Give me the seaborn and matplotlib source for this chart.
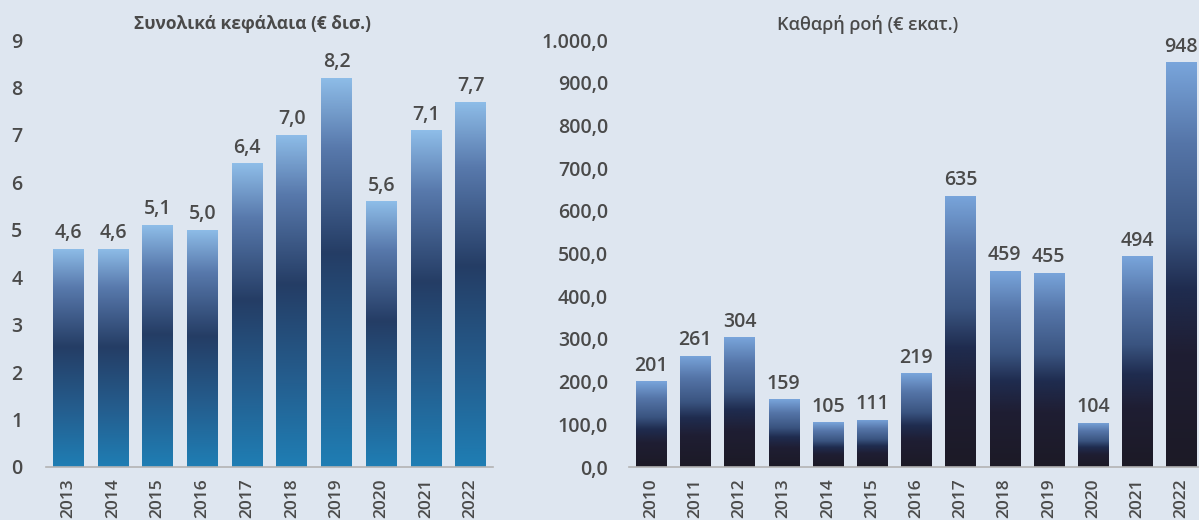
import numpy as np
import pandas as pd
import matplotlib
matplotlib.use("Agg")
import matplotlib.pyplot as plt
from matplotlib.colors import LinearSegmentedColormap
import seaborn as sns

# data
years_left = ["2013", "2014", "2015", "2016", "2017", "2018", "2019", "2020", "2021", "2022"]
assets_bn = [4.6, 4.6, 5.1, 5.0, 6.4, 7.0, 8.2, 5.6, 7.1, 7.7]

years_right = ["2010", "2011", "2012", "2013", "2014", "2015", "2016",
               "2017", "2018", "2019", "2020", "2021", "2022"]
netflow_mn = [201, 261, 304, 159, 105, 111, 219, 635, 459, 455, 104, 494, 948]

left_title = "Συνολικά κεφάλαια (€ δισ.)"
right_title = "Καθαρή ροή (€ εκατ.)"

bg = "#dee6f0"
txt = "#4a4a4a"

sns.set_theme(style="white")
plt.rcParams["font.family"] = ["Open Sans", "DejaVu Sans"]
plt.rcParams["font.weight"] = "semibold"

# gradients, top -> bottom
cmap_left = LinearSegmentedColormap.from_list(
    "left", [(0.0, "#8ebde8"), (0.18, "#5879ac"), (0.45, "#253d65"),
             (0.75, "#245f90"), (1.0, "#1f7eb4")])
cmap_right = LinearSegmentedColormap.from_list(
    "right", [(0.0, "#79a5db"), (0.2, "#5575a8"), (0.42, "#3a5480"),
              (0.56, "#1f2c4f"), (0.72, "#1f1e33"), (1.0, "#1c1a26")])


def fmt_comma(v, dec):
    s = f"{v:,.{dec}f}"
    return s.replace(",", "X").replace(".", ",").replace("X", ".")


def gradient_bars(ax, cmap):
    grad = np.linspace(0, 1, 256).reshape(-1, 1)
    for p in ax.patches:
        x, w, h = p.get_x(), p.get_width(), p.get_height()
        im = ax.imshow(grad, cmap=cmap, aspect="auto",
                       extent=[x, x + w, 0, h], origin="upper", zorder=2)
        im.set_clip_path(p)
        p.set_facecolor("none")
        p.set_edgecolor("none")


fig = plt.figure(figsize=(11.99, 5.2), dpi=100, facecolor=bg)
W, H = 1199, 520

# left panel
ax1 = fig.add_axes([46 / W, (H - 467) / H, (493 - 46) / W, (467 - 40) / H])
sns.barplot(x=years_left, y=assets_bn, ax=ax1, width=0.69, color="#1f7eb4")
gradient_bars(ax1, cmap_left)
ax1.set_xlim(-0.5, len(years_left) - 0.5)
ax1.set_ylim(0, 9)
ax1.set_yticks(range(0, 10))
for i, v in enumerate(assets_bn):
    ax1.annotate(fmt_comma(v, 1), (i, v), xytext=(0, 4), textcoords="offset points",
                 ha="center", va="bottom", fontsize=14, color=txt)

# right panel
ax2 = fig.add_axes([629 / W, (H - 467) / H, (W - 629) / W, (467 - 40) / H])
sns.barplot(x=years_right, y=netflow_mn, ax=ax2, width=0.68, color="#1c1a26")
gradient_bars(ax2, cmap_right)
ax2.set_xlim(-0.5, 12.4)
ax2.set_ylim(0, 1000)
ax2.set_yticks(range(0, 1001, 100))
ax2.set_yticklabels([fmt_comma(v, 1) for v in range(0, 1001, 100)])
for i, v in enumerate(netflow_mn):
    ax2.annotate(str(v), (i, v), xytext=(0, 4), textcoords="offset points",
                 ha="center", va="bottom", fontsize=14, color=txt)

for ax, pad in [(ax1, 17), (ax2, 15)]:
    ax.set_facecolor(bg)
    for s in ["top", "right", "left"]:
        ax.spines[s].set_visible(False)
    ax.spines["bottom"].set_color("#b3b3b3")
    ax.spines["bottom"].set_linewidth(1.2)
    ax.spines["bottom"].set_zorder(3)
    ax.tick_params(axis="y", length=0, pad=pad, labelsize=14, labelcolor=txt)
    ax.tick_params(axis="x", length=0, pad=8, labelsize=12.5, labelcolor=txt,
                   labelrotation=90)
    ax.set_xlabel("")
    ax.set_ylabel("")
    ax.grid(False)

fig.text(253 / W, 1 - 24 / H, left_title, ha="center", va="center",
         fontsize=12.5, fontweight="bold", color=txt)
fig.text(868 / W, 1 - 24 / H, right_title, ha="center", va="center",
         fontsize=13, fontweight="semibold", color=txt)

fig.savefig("out.png", dpi=100, facecolor=bg)
